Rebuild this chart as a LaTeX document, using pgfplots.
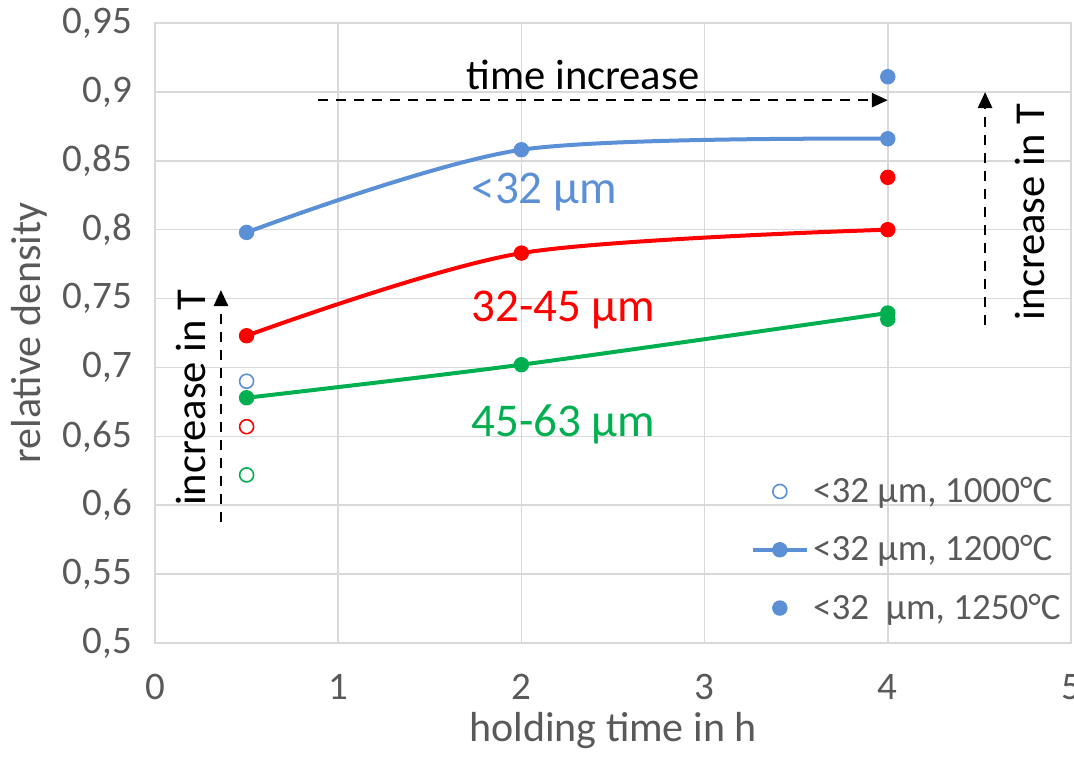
\documentclass[border=0pt]{standalone}
\usepackage{fontspec}
\setmainfont{Carlito}
\usepackage{pgfplots}
\pgfplotsset{compat=1.18}
\usetikzlibrary{arrows.meta}
\definecolor{cblue}{HTML}{5B8FD6}
\definecolor{cred}{HTML}{FF0000}
\definecolor{cgreen}{HTML}{00B050}
\definecolor{ctext}{HTML}{595959}
\definecolor{cgrid}{HTML}{D9D9D9}
\begin{document}
\begin{tikzpicture}
\path[use as bounding box] (-77.5pt,-57pt) rectangle (459.5pt,321.5pt);
\begin{axis}[
  at={(0,0)}, anchor=south west,
  scale only axis, width=458pt, height=310pt,
  xmin=0, xmax=5, ymin=0.5, ymax=0.95,
  xtick={0,1,2,3,4,5},
  ytick={0.5,0.55,0.6,0.65,0.7,0.75,0.8,0.85,0.9,0.95},
  grid=major, major grid style={cgrid, line width=0.75pt},
  axis line style={cgrid, line width=0.75pt},
  major tick length=0pt,
  /pgf/number format/use comma,
  /pgf/number format/assume math mode=true,
  tick label style={font=\fontsize{19.5}{21}\selectfont, text=ctext},
  yticklabel style={xshift=-8pt},
  xticklabel style={yshift=-12pt},
  xlabel={holding time in h}, ylabel={relative density},
  label style={font=\fontsize{21}{24}\selectfont, text=ctext},
  xlabel style={yshift=0.5pt},
  ylabel style={yshift=1pt},
  clip=false,
  legend style={at={(1.0,0.02)}, anchor=south east, draw=none, fill=none,
    font=\fontsize{18.5}{20}\selectfont, text=ctext, row sep=11pt},
  legend cell align=left,
  legend image code/.code={\draw[mark repeat=2,mark phase=2,#1] plot coordinates {(0cm,0cm) (0.48cm,0cm) (0.96cm,0cm)};},
]
% legend series (<32 um)
\addplot[only marks, mark=o, mark size=3.5pt, cblue, line width=0.8pt] coordinates {(0.5,0.690)};
\addlegendentry{<32 µm, 1000°C}
\addplot[cblue, line width=2pt, smooth, tension=0.5, mark=*, mark size=3.6pt, mark options={line width=0.5pt}] coordinates {(0.5,0.798) (2,0.858) (4,0.866)};
\addlegendentry{<32 µm, 1200°C}
\addplot[only marks, mark=*, mark size=3.6pt, cblue, mark options={line width=0.5pt}] coordinates {(4,0.911)};
\addlegendentry{<32\ \ µm, 1250°C}
% 32-45 um
\addplot[forget plot, cred, line width=2pt, smooth, tension=0.5, mark=*, mark size=3.6pt, mark options={line width=0.5pt}] coordinates {(0.5,0.723) (2,0.783) (4,0.800)};
\addplot[forget plot, only marks, mark=*, mark size=3.6pt, cred, mark options={line width=0.5pt}] coordinates {(4,0.838)};
\addplot[forget plot, only marks, mark=o, mark size=3.5pt, cred, line width=0.8pt] coordinates {(0.5,0.657)};
% 45-63 um
\addplot[forget plot, cgreen, line width=2pt, smooth, tension=0.5, mark=*, mark size=3.6pt, mark options={line width=0.5pt}] coordinates {(0.5,0.678) (2,0.702) (4,0.7395)};
\addplot[forget plot, only marks, mark=*, mark size=3.6pt, cgreen, mark options={line width=0.5pt}] coordinates {(4,0.735)};
\addplot[forget plot, only marks, mark=o, mark size=3.5pt, cgreen, line width=0.8pt] coordinates {(0.5,0.622)};
% annotations
\node[anchor=west, text=cblue, font=\fontsize{23.5}{25}\selectfont] at (axis cs:1.69,0.827) {<32 µm};
\node[anchor=west, text=cred, font=\fontsize{23.5}{25}\selectfont] at (axis cs:1.69,0.7417) {32-45 µm};
\node[anchor=west, text=cgreen, font=\fontsize{23.5}{25}\selectfont] at (axis cs:1.69,0.659) {45-63 µm};
\node[font=\fontsize{21.3}{23}\selectfont] at (axis cs:2.336,0.912) {time increase};
\node[rotate=90, font=\fontsize{21.3}{23}\selectfont] at (axis cs:0.197,0.678) {increase in T};
\node[rotate=90, font=\fontsize{21.3}{23}\selectfont] at (axis cs:4.776,0.8128) {increase in T};
\draw[black, line width=1.3pt, dash pattern=on 5pt off 4pt, -{Triangle[length=8pt,width=7pt]}] (axis cs:0.89,0.894) -- (axis cs:4.0,0.894);
\draw[black, line width=1.3pt, dash pattern=on 5pt off 4pt, -{Triangle[length=8pt,width=7pt]}] (axis cs:0.36,0.5878) -- (axis cs:0.36,0.7562);
\draw[black, line width=1.3pt, dash pattern=on 5pt off 4pt, -{Triangle[length=8pt,width=7pt]}] (axis cs:4.531,0.7308) -- (axis cs:4.531,0.8999);
\end{axis}
\end{tikzpicture}
\end{document}
